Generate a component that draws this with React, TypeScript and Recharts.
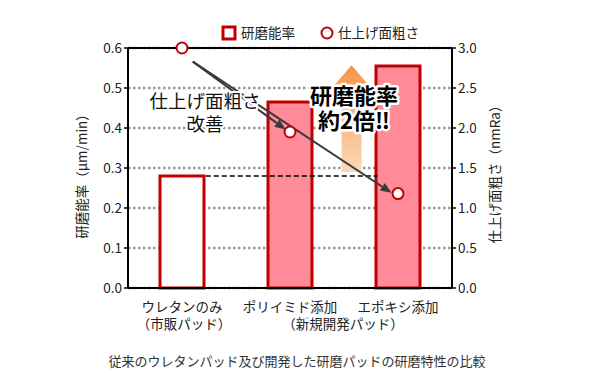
import React from 'react';
import {
  ComposedChart,
  Bar,
  Cell,
  Line,
  XAxis,
  YAxis,
  CartesianGrid,
  ReferenceLine,
} from 'recharts';

const categories = ['ウレタンのみ', 'ポリイミド添加', 'エポキシ添加'];
const removalRate = [0.28, 0.465, 0.555];
const roughness = [3.0, 1.95, 1.18];
const barFills = ['#FFFFFF', '#FF8A98', '#FF8A98'];
const leftTicks = [0, 0.1, 0.2, 0.3, 0.4, 0.5, 0.6];
const rightTicks = [0, 0.5, 1.0, 1.5, 2.0, 2.5, 3.0];

// annotation anchors, in category-index / axis units
const arrowStart = { x: 0.1, y: 2.83 };
const arrowEnds = [
  { x: 0.96, y: 1.98 },
  { x: 1.94, y: 1.19 },
];
const baselineSegment = [
  { x: 0.22, y: 0.28 },
  { x: 1.81, y: 0.28 },
];
const boostArrow = [
  { x: 1.57, y: 0.29 },
  { x: 1.57, y: 0.557 },
];

const data = categories.map((name, i) => ({
  pos: i,
  name,
  rate: removalRate[i],
  ra: roughness[i],
}));

const FONT = "'Noto Sans CJK JP', 'Noto Sans', sans-serif";
const RED = '#C00000';

const ArrowShape = (p: any) => {
  const { x1, y1, x2, y2 } = p;
  const a = Math.atan2(y2 - y1, x2 - x1);
  const len = 11;
  const hw = 4.5;
  const bx = x2 - len * Math.cos(a);
  const by = y2 - len * Math.sin(a);
  const nx = -Math.sin(a) * hw;
  const ny = Math.cos(a) * hw;
  return (
    <g>
      <line x1={x1} y1={y1} x2={bx} y2={by} stroke="#3a3a3a" strokeWidth={2} />
      <polygon
        points={`${x2},${y2} ${bx + nx},${by + ny} ${bx - nx},${by - ny}`}
        fill="#3a3a3a"
      />
    </g>
  );
};

const BoostShape = (p: any) => {
  const { x1, y1, y2 } = p;
  const bottom = Math.max(y1, y2);
  const top = Math.min(y1, y2);
  const shaft = 10;
  const head = 19;
  const headLen = 22;
  const pts = [
    [x1 - shaft, bottom],
    [x1 - shaft, top + headLen],
    [x1 - head, top + headLen],
    [x1, top],
    [x1 + head, top + headLen],
    [x1 + shaft, top + headLen],
    [x1 + shaft, bottom],
  ]
    .map((q) => q.join(','))
    .join(' ');
  return (
    <g>
      <defs>
        <linearGradient id="boostGrad" x1="0" y1="0" x2="0" y2="1">
          <stop offset="0%" stopColor="#F79646" />
          <stop offset="100%" stopColor="#FCD8BA" />
        </linearGradient>
      </defs>
      <polygon points={pts} fill="url(#boostGrad)" />
    </g>
  );
};

const XTick = (props: any) => {
  const { x, y, payload } = props;
  return (
    <text
      x={x}
      y={y + 16}
      textAnchor="middle"
      fontSize={13.5}
      fontFamily={FONT}
      fill="#222"
    >
      {categories[payload.value]}
    </text>
  );
};

const outline = {
  paintOrder: 'stroke' as const,
  stroke: '#fff',
  strokeLinejoin: 'round' as const,
};

const App: React.FC = () => {
  return (
    <div
      style={{
        position: 'absolute',
        left: 0,
        top: 0,
        width: 595,
        height: 379,
        background: '#fff',
        fontFamily: FONT,
      }}
    >
      <ComposedChart
        width={595}
        height={379}
        data={data}
        margin={{ top: 48, right: 83, left: 68, bottom: 51 }}
      >
        <CartesianGrid
          yAxisId="l"
          vertical={false}
          stroke="#9a9a9a"
          strokeWidth={2.5}
          strokeDasharray="2.5 2.5"
        />
        <XAxis
          dataKey="pos"
          type="number"
          domain={[-0.5, 2.5]}
          allowDataOverflow
          ticks={[0, 1, 2]}
          height={40}
          axisLine={{ stroke: '#000', strokeWidth: 2 }}
          tickLine={false}
          tick={<XTick />}
          interval={0}
        />
        <YAxis
          yAxisId="l"
          width={60}
          domain={[0, 0.6]}
          ticks={leftTicks}
          tickFormatter={(v: number) => v.toFixed(1)}
          axisLine={{ stroke: '#000', strokeWidth: 2 }}
          tickLine={{ stroke: '#000', strokeWidth: 1.5 }}
          tickSize={4}
          tick={{ fontSize: 13.5, fill: '#222', fontFamily: FONT }}
        />
        <YAxis
          yAxisId="r"
          orientation="right"
          width={60}
          domain={[0, 3]}
          ticks={rightTicks}
          tickFormatter={(v: number) => v.toFixed(1)}
          axisLine={{ stroke: '#000', strokeWidth: 2 }}
          tickLine={{ stroke: '#000', strokeWidth: 1.5 }}
          tickSize={4}
          tick={{ fontSize: 13.5, fill: '#222', fontFamily: FONT }}
        />
        <ReferenceLine yAxisId="l" y={0.6} stroke="#000" strokeWidth={2} />
        <Bar
          yAxisId="l"
          dataKey="rate"
          barSize={44}
          stroke={RED}
          strokeWidth={3}
          isAnimationActive={false}
        >
          {data.map((d, i) => (
            <Cell key={d.name} fill={barFills[i]} />
          ))}
        </Bar>
        <ReferenceLine
          yAxisId="l"
          segment={baselineSegment}
          stroke="#000"
          strokeWidth={1.5}
          strokeDasharray="5 3"
        />
        <ReferenceLine yAxisId="l" segment={boostArrow} shape={BoostShape} />
        {arrowEnds.map((end, i) => (
          <ReferenceLine
            key={i}
            yAxisId="r"
            segment={[arrowStart, end]}
            shape={ArrowShape}
          />
        ))}
        <Line
          yAxisId="r"
          dataKey="ra"
          stroke="none"
          dot={{ r: 5.5, fill: '#fff', stroke: RED, strokeWidth: 2 }}
          activeDot={false}
          isAnimationActive={false}
        />
      </ComposedChart>
      <svg
        width={595}
        height={379}
        style={{ position: 'absolute', left: 0, top: 0, pointerEvents: 'none' }}
        fontFamily={FONT}
      >
        {/* legend */}
        <rect x={223} y={27} width={12} height={12} fill="#fff" stroke={RED} strokeWidth={3} />
        <text x={241} y={38} fontSize={13.5} fill="#222">研磨能率</text>
        <circle cx={327} cy={33} r={5.5} fill="#fff" stroke={RED} strokeWidth={2} />
        <text x={338} y={38} fontSize={13.5} fill="#222">仕上げ面粗さ</text>

        {/* axis titles */}
        <text
          transform="translate(87,173) rotate(-90)"
          textAnchor="middle"
          fontSize={13.5}
          fill="#222"
        >
          研磨能率（μm/min）
        </text>
        <text
          transform="translate(500,171) rotate(-90)"
          textAnchor="middle"
          fontSize={13.5}
          fill="#222"
        >
          仕上げ面粗さ（nmRa）
        </text>

        {/* second line of category labels */}
        <text x={184} y={329} textAnchor="middle" fontSize={13.5} fill="#222">（市販パッド）</text>
        <text x={343} y={329} textAnchor="middle" fontSize={13.5} fill="#222">（新規開発パッド）</text>

        {/* annotations */}
        <text x={205} y={108} textAnchor="middle" fontSize={18.5} fill="#111" strokeWidth={4} style={outline}>
          仕上げ面粗さ
        </text>
        <text x={205} y={131} textAnchor="middle" fontSize={18.5} fill="#111" strokeWidth={4} style={outline}>
          改善
        </text>
        <text x={354} y={104} textAnchor="middle" fontSize={22} fontWeight="bold" fill="#000" strokeWidth={5} style={outline}>
          研磨能率
        </text>
        <text x={354} y={129} textAnchor="middle" fontSize={22} fontWeight="bold" fill="#000" strokeWidth={5} style={outline}>
          約2倍‼
        </text>

        {/* caption */}
        <text x={297} y={366} textAnchor="middle" fontSize={13} fill="#333">
          従来のウレタンパッド及び開発した研磨パッドの研磨特性の比較
        </text>
      </svg>
    </div>
  );
};

export default App;
